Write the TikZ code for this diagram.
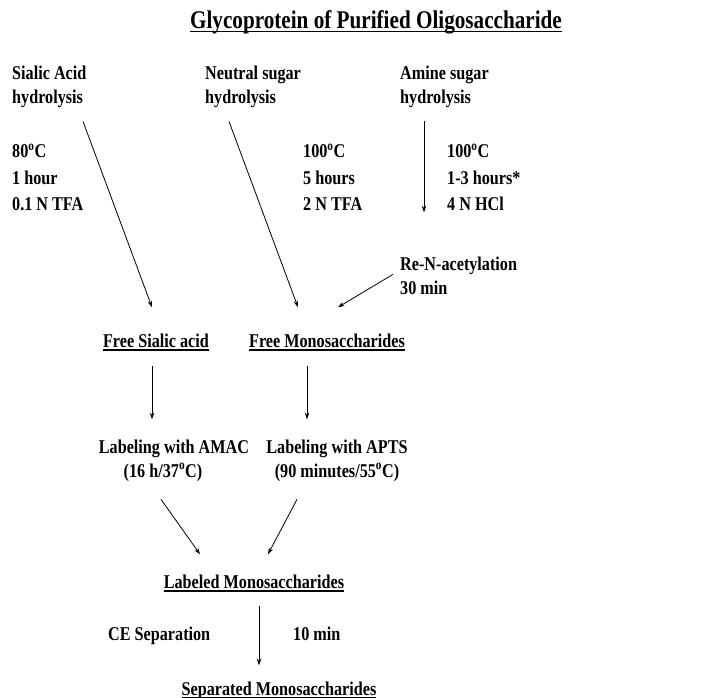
\documentclass[tikz,border=0pt]{standalone}
\usepackage{fontspec}
\setmainfont{Liberation Serif}[FakeStretch=0.83]
\usepackage{tikz}
\usetikzlibrary{arrows.meta}
\newcommand{\ulin}[1]{\setbox0=\hbox{#1}\copy0\llap{\rule[-3.5pt]{\wd0}{1.6pt}}}

\begin{document}
\begin{tikzpicture}[x=1pt, y=-1pt,
        txt/.style={inner sep=0pt, align=left, font=\fontsize{19.5}{24}\selectfont\bfseries},
        cond/.style={txt, font=\fontsize{19.5}{26.5}\selectfont\bfseries},
        head/.style={inner sep=0pt, anchor=base, font=\fontsize{19.5}{24}\selectfont\bfseries},
        flow/.style={-{Stealth[length=6.5pt, width=4.5pt]}, line width=0.8pt}
    ]
        \useasboundingbox (0,0) rectangle (718,698);

        \node[head, font=\fontsize{25.5}{30}\selectfont\bfseries] (glyco) at (376,29) {\ulin{Glycoprotein of Purified Oligosaccharide}};

        % base = last line
        \node[txt, anchor=base west] (sialic) at (12,104) {Sialic Acid\\hydrolysis};
        \node[txt, anchor=base west] (neutral) at (205,104) {Neutral sugar\\hydrolysis};
        \node[txt, anchor=base west] (amine) at (400,104) {Amine sugar\\hydrolysis};

        \node[cond, anchor=base west] (sialcond) at (12,211) {80\textsuperscript{o}C\\1 hour\\0.1 N TFA};
        \node[cond, anchor=base west] (neutcond) at (303,211) {100\textsuperscript{o}C\\5 hours\\2 N TFA};
        \node[cond, anchor=base west] (aminecond) at (447,211) {100\textsuperscript{o}C\\1-3 hours*\\4 N HCl};

        \node[txt, anchor=base west] (reacet) at (400,294) {Re-N-acetylation\\30 min};

        \node[head] (freesial) at (156,347) {\ulin{Free Sialic acid}};
        \node[head] (freemono) at (327,347) {\ulin{Free Monosaccharides}};

        \node[txt, anchor=base, align=center] (amac) at (174,477) {Labeling with AMAC\\\hspace*{-22pt}(16 h/37\textsuperscript{o}C)};
        \node[txt, anchor=base, align=center] (apts) at (337,477) {Labeling with APTS\\(90 minutes/55\textsuperscript{o}C)};

        \node[head] (labeled) at (254,588) {\ulin{Labeled Monosaccharides}};
        \node[txt, anchor=base west] (cesep) at (108,640) {CE Separation};
        \node[txt, anchor=base west] (tenmin) at (293,640) {10 min};
        \node[head] (separated) at (279,695) {\ulin{Separated Monosaccharides}};

        \draw[flow] ([xshift=71pt, yshift=-13pt]sialic.south west) -- ([xshift=-4pt, yshift=26pt]freesial.north);
        \draw[flow] ([xshift=24pt, yshift=-13pt]neutral.south west) -- ([xshift=-29pt, yshift=26pt]freemono.north);
        \draw[flow] ([xshift=24pt, yshift=-13pt]amine.south west) -- ([xshift=24pt, yshift=44pt]reacet.north west);
        \draw[flow] ([xshift=-7pt, yshift=1pt]reacet.west) -- ([xshift=-67pt, yshift=26pt]freemono.north east);
        \draw[flow, shorten <=15pt, shorten >=20pt] ([xshift=-4pt]freesial.south) -- ([xshift=-4pt]freesial.south |- amac.north);
        \draw[flow, shorten <=15pt, shorten >=20pt] ([xshift=-20pt]freemono.south) -- ([xshift=-20pt]freemono.south |- apts.north);
        \draw[flow] ([xshift=-13pt, yshift=-18pt]amac.south) -- ([xshift=-54pt, yshift=20pt]labeled.north);
        \draw[flow] ([xshift=-40pt, yshift=-18pt]apts.south) -- ([xshift=14pt, yshift=20pt]labeled.north);
        \draw[flow, shorten <=14pt, shorten >=16pt] ([xshift=5pt]labeled.south) -- ([xshift=5pt]labeled.south |- separated.north);
    \end{tikzpicture}
\end{document}
